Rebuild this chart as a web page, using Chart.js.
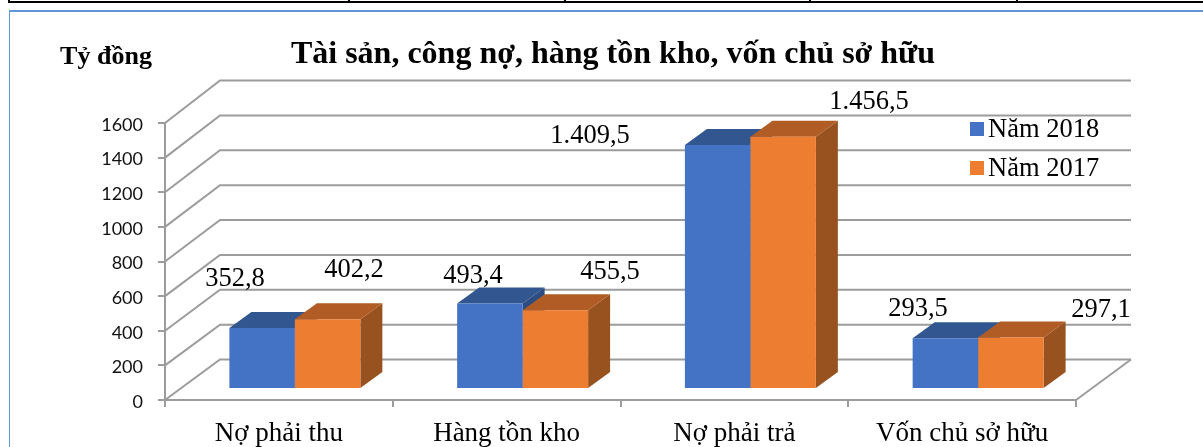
<!DOCTYPE html>
<html lang="vi">
<head>
<meta charset="utf-8">
<title>Tài sản, công nợ, hàng tồn kho, vốn chủ sở hữu</title>
<script src="https://cdn.jsdelivr.net/npm/chart.js@4"></script>
<style>
html,body{margin:0;padding:0;background:#fff;overflow:hidden}
#wrap{position:relative;width:1203px;height:447px;overflow:hidden}
canvas{position:absolute;left:0;top:0}
.rule{position:absolute;background:#000}
#frame{position:absolute;left:9px;top:10px;right:-4px;bottom:-4px;border:solid #6397dc;border-width:2px 0 0 1.5px}
</style>
</head>
<body>
<div id="wrap">
  <div class="rule" style="left:8px;top:1px;right:0;height:2px"></div>
  <div class="rule" style="left:8px;top:0;width:2px;height:3px"></div>
  <div class="rule" style="left:348px;top:0;width:2px;height:3px"></div>
  <div class="rule" style="left:564px;top:0;width:2px;height:3px"></div>
  <div class="rule" style="left:809px;top:0;width:2px;height:3px"></div>
  <div class="rule" style="left:1016px;top:0;width:2px;height:3px"></div>
  <div id="frame"></div>
  <canvas id="c" width="1203" height="447"></canvas>
</div>
<script>
const categories = ['Nợ phải thu', 'Hàng tồn kho', 'Nợ phải trả', 'Vốn chủ sở hữu'];
const values2018 = [352.8, 493.4, 1409.5, 293.5];
const values2017 = [402.2, 455.5, 1456.5, 297.1];
const seriesNames = ['Năm 2018', 'Năm 2017'];
const chartTitle = 'Tài sản, công nợ, hàng tồn kho, vốn chủ sở hữu';
const unitLabel = 'Tỷ đồng';

const SERIF = '"Liberation Serif","Times New Roman",serif';
const GRID = '#9c9c9c';
const WALL = {dx: 55, dyFloor: -40.5, dyTop: -42.5};  // depth of the 3D box, slight perspective
const BAR_SHIFT = {dx: 16, dy: -11};     // bars stand mid-depth on the floor
const BAR_DEPTH = {dx: 22, dy: -16};
const FACES = [
  {front: '#4472C4', top: '#325690', side: '#2c4c82'},
  {front: '#ED7D31', top: '#B05C24', side: '#98521F'}
];
// the value labels were placed by hand in the original
const LABEL_POS = [
  [[235,279],[473,276],[590,136],[918,309]],
  [[354,270],[610,272],[869,102],[1101,310]]
];
const LEGEND_SPOT = {x: 970, top: 122, size: 14, rowGap: 39, textGap: 18, baseline: 15};

function fmt(v){
  const s = v.toFixed(1).split('.');
  return s[0].replace(/\B(?=(\d{3})+$)/g,'.') + ',' + s[1];
}

const scene3d = {
  id: 'scene3d',
  afterLayout(chart){
    const t = chart.titleBlock;
    if (t){ t.left += 75; t.right += 75; }
  },
  beforeDraw(chart){
    const {ctx, chartArea:a, scales:{y}} = chart;
    ctx.save();
    ctx.strokeStyle = GRID;
    ctx.lineWidth = 2;
    y.ticks.forEach(t=>{
      const py = y.getPixelForValue(t.value);
      const dy = WALL.dyFloor + (WALL.dyTop - WALL.dyFloor) * t.value / y.max;
      ctx.beginPath();
      ctx.moveTo(a.left, py);
      ctx.lineTo(a.left + WALL.dx, py + dy);
      ctx.lineTo(a.right + WALL.dx, py + dy);
      ctx.stroke();
    });
    const py0 = y.getPixelForValue(0);
    ctx.beginPath();
    ctx.moveTo(a.right, py0);
    ctx.lineTo(a.right + WALL.dx, py0 + WALL.dyFloor);
    ctx.stroke();
    // legend, sitting over the back wall
    const L = LEGEND_SPOT;
    ctx.font = '26.5px ' + SERIF;
    ctx.textAlign = 'left';
    ctx.textBaseline = 'alphabetic';
    chart.data.datasets.forEach((ds,i)=>{
      const top = L.top + i * L.rowGap;
      ctx.fillStyle = ds.backgroundColor;
      ctx.fillRect(L.x, top, L.size, L.size);
      ctx.fillStyle = '#000';
      ctx.fillText(ds.label, L.x + L.textGap, top + L.baseline);
    });
    ctx.restore();
  },
  beforeDatasetsDraw(chart){
    const ctx = chart.ctx;
    ctx.save();
    ctx.translate(BAR_SHIFT.dx, BAR_SHIFT.dy);
    chart.data.datasets.forEach((ds,i)=>{
      chart.getDatasetMeta(i).data.forEach(b=>{
        const l = b.x - b.width/2, r = b.x + b.width/2;
        const D = BAR_DEPTH;
        ctx.fillStyle = FACES[i].side;
        ctx.beginPath();
        ctx.moveTo(r,b.y); ctx.lineTo(r+D.dx,b.y+D.dy);
        ctx.lineTo(r+D.dx,b.base+D.dy); ctx.lineTo(r,b.base);
        ctx.closePath(); ctx.fill();
        ctx.fillStyle = FACES[i].top;
        ctx.beginPath();
        ctx.moveTo(l,b.y); ctx.lineTo(l+D.dx,b.y+D.dy);
        ctx.lineTo(r+D.dx,b.y+D.dy); ctx.lineTo(r,b.y);
        ctx.closePath(); ctx.fill();
      });
    });
  },
  afterDatasetsDraw(chart){
    const ctx = chart.ctx;
    ctx.restore();
    ctx.save();
    ctx.fillStyle = '#000';
    ctx.textAlign = 'center';
    ctx.textBaseline = 'middle';
    ctx.font = '26.5px ' + SERIF;
    chart.data.datasets.forEach((ds,i)=>{
      ds.data.forEach((v,j)=>{
        const p = LABEL_POS[i][j];
        ctx.fillText(fmt(v), p[0], p[1]);
      });
    });
    ctx.font = 'bold 26px ' + SERIF;
    ctx.fillText(unitLabel, 106, 57);
    ctx.restore();
  }
};

new Chart(document.getElementById('c'), {
  type: 'bar',
  data: {
    labels: categories,
    datasets: [
      {label: seriesNames[0], data: values2018, backgroundColor: FACES[0].front, clip: false},
      {label: seriesNames[1], data: values2017, backgroundColor: FACES[1].front, clip: false}
    ]
  },
  options: {
    responsive: false,
    animation: false,
    events: [],
    datasets: {bar: {categoryPercentage: 0.575, barPercentage: 1}},
    layout: {padding: {left: 0, right: 127, top: 0, bottom: 0}},
    plugins: {
      tooltip: {enabled: false},
      legend: {display: false},
      title: {
        display: true,
        text: chartTitle,
        color: '#000',
        font: {family: SERIF, size: 32, weight: 'bold', lineHeight: 1.2},
        padding: {top: 36, bottom: 48.6}
      }
    },
    scales: {
      x: {
        afterFit(s){ s.height = 47; },
        grid: {offset: true, drawOnChartArea: false, color: GRID, lineWidth: 2, tickLength: 7},
        border: {color: GRID, width: 2},
        ticks: {
          autoSkip: false, maxRotation: 0, minRotation: 0, padding: 11, color: '#000',
          font: {family: SERIF, size: 27}
        }
      },
      y: {
        min: 0, max: 1600,
        afterFit(s){ s.width = 165; },
        grid: {drawOnChartArea: false, color: GRID, lineWidth: 2, tickLength: 7},
        border: {color: GRID, width: 2},
        ticks: {
          stepSize: 200, padding: 15, color: '#111', labelOffset: 2,
          font: {family: 'Lato', size: 18},
          callback: v => String(v)
        }
      }
    }
  },
  plugins: [scene3d]
});
</script>
</body>
</html>
